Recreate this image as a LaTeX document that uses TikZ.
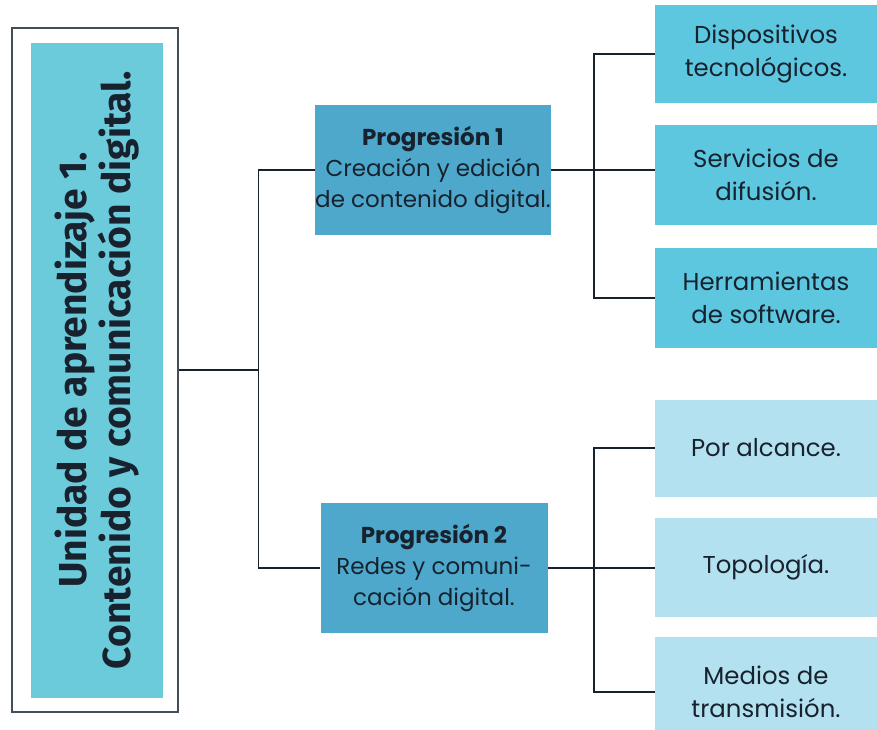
\documentclass[tikz,border=0pt]{standalone}
\usepackage{fontspec}
\setmainfont{Poppins}
\newfontfamily\titulofont{Fira Sans}
\usetikzlibrary{positioning}

\definecolor{tinta}{HTML}{17222E}
\definecolor{cianunidad}{HTML}{6BCBDB}
\definecolor{azulprog}{HTML}{4DA8CC}
\definecolor{cianbox}{HTML}{5DC7E0}
\definecolor{celeste}{HTML}{B4E1EF}

\tikzset{
  linea/.style={draw=tinta, line width=0.8pt},
  progbox/.style={fill=azulprog, text=tinta, align=center, inner sep=0pt,
    minimum height=65pt, font=\fontsize{11.5}{15.5}\selectfont},
  temabox/.style={fill=cianbox, text=tinta, align=center, inner sep=0pt,
    minimum width=111pt, font=\fontsize{12.2}{16.5}\selectfont},
  subbox/.style={temabox, fill=celeste}
}

\begin{document}
\begin{tikzpicture}[x=0.5pt,y=-0.5pt]
\useasboundingbox (0,0) rectangle (877,729);
\clip (0,0) rectangle (877,729);

% unidad
\node[draw=tinta!80, line width=0.6pt, minimum width=83pt, minimum height=342pt] (marco) at (95,370) {};
\node[fill=cianunidad, text=tinta, rotate=90, align=center, inner sep=0pt,
  minimum width=327.5pt, minimum height=66pt,
  font=\titulofont\bfseries\fontsize{19.5}{17.5}\selectfont] (unidad) at (97,370)
  {Unidad de aprendizaje 1.\\Contenido y comunicación digital.};

% progresiones
\node[progbox, minimum width=116.5pt] (prog1) at (433,170)
  {\textbf{Progresión 1}\\Creación y edición\\de contenido digital.};
\node[progbox, minimum width=113.5pt] (prog2) at (434,568)
  {\textbf{Progresión 2}\\Redes y comuni-\\cación digital.};

% temas
\node[temabox, minimum height=49pt] (disp) at (766,54) {Dispositivos\\tecnológicos.};
\node[temabox, minimum height=50pt] (serv) at (766,175) {Servicios de\\difusión.};
\node[temabox, minimum height=50pt] (herr) at (766,298) {Herramientas\\de software.};
\node[subbox, minimum height=48.5pt] (alcance) at (766,448) {Por alcance.};
\node[subbox, minimum height=49.5pt] (topo) at (766,567) {Topología.};
\node[subbox, minimum height=55pt] (medios) at (766,692) {Medios de\\transmisión.};

% conectores
\coordinate (ramaA) at ([xshift=40pt]marco.east);
\coordinate (ramaB) at ([xshift=21.5pt]prog1.east);
\coordinate (ramaC) at ([xshift=23pt]prog2.east);

\draw[linea] (marco.east) -- (ramaA);
\draw[linea] (prog1.west) -| (ramaA) |- (prog2.west);

\draw[linea] (prog1.east) -- (ramaB);
\draw[linea] (disp.west) -| (ramaB) |- (herr.west);
\draw[linea] (ramaB) -- (ramaB -| serv.west);

\draw[linea] (prog2.east) -- (ramaC);
\draw[linea] (alcance.west) -| (ramaC) |- (medios.west);
\draw[linea] (ramaC) -- (ramaC -| topo.west);
\end{tikzpicture}
\end{document}
